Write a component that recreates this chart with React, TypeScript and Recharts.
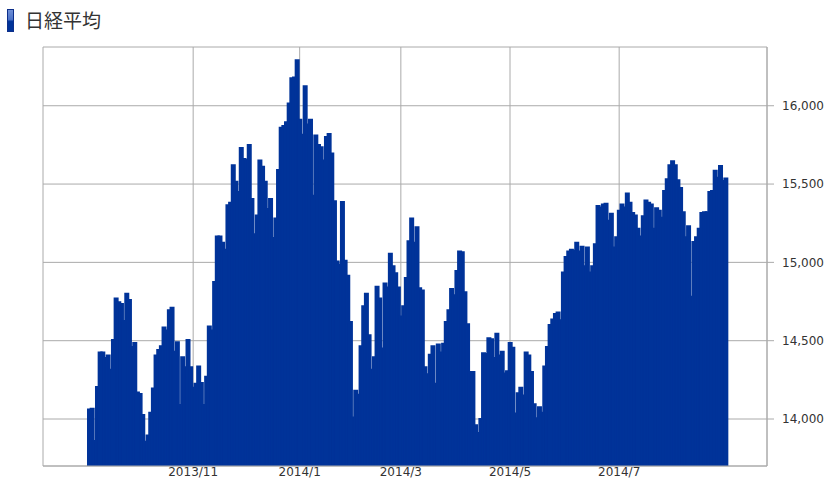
import { BarChart, Bar, XAxis, YAxis, CartesianGrid } from "recharts";

// Nikkei 225 daily close, 2013/9/4 - 2014/8/27
const dates: string[] = [
  "2013/09/04", "2013/09/05", "2013/09/06", "2013/09/09", "2013/09/10", "2013/09/11", "2013/09/12", "2013/09/13", "2013/09/17", "2013/09/18", "2013/09/19", "2013/09/20", "2013/09/24", "2013/09/25", "2013/09/26", "2013/09/27", "2013/09/30",
  "2013/10/01", "2013/10/02", "2013/10/03", "2013/10/04", "2013/10/07", "2013/10/08", "2013/10/09", "2013/10/10", "2013/10/11", "2013/10/15", "2013/10/16", "2013/10/17", "2013/10/18", "2013/10/21", "2013/10/22", "2013/10/23", "2013/10/24", "2013/10/25", "2013/10/28", "2013/10/29", "2013/10/30", "2013/10/31",
  "2013/11/01", "2013/11/05", "2013/11/06", "2013/11/07", "2013/11/08", "2013/11/11", "2013/11/12", "2013/11/13", "2013/11/14", "2013/11/15", "2013/11/18", "2013/11/19", "2013/11/20", "2013/11/21", "2013/11/22", "2013/11/25", "2013/11/26", "2013/11/27", "2013/11/28", "2013/11/29",
  "2013/12/02", "2013/12/03", "2013/12/04", "2013/12/05", "2013/12/06", "2013/12/09", "2013/12/10", "2013/12/11", "2013/12/12", "2013/12/13", "2013/12/16", "2013/12/17", "2013/12/18", "2013/12/19", "2013/12/20", "2013/12/24", "2013/12/25", "2013/12/26", "2013/12/27", "2013/12/30",
  "2014/01/06", "2014/01/07", "2014/01/08", "2014/01/09", "2014/01/10", "2014/01/14", "2014/01/15", "2014/01/16", "2014/01/17", "2014/01/20", "2014/01/21", "2014/01/22", "2014/01/23", "2014/01/24", "2014/01/27", "2014/01/28", "2014/01/29", "2014/01/30", "2014/01/31",
  "2014/02/03", "2014/02/04", "2014/02/05", "2014/02/06", "2014/02/07", "2014/02/10", "2014/02/12", "2014/02/13", "2014/02/14", "2014/02/17", "2014/02/18", "2014/02/19", "2014/02/20", "2014/02/21", "2014/02/24", "2014/02/25", "2014/02/26", "2014/02/27", "2014/02/28",
  "2014/03/03", "2014/03/04", "2014/03/05", "2014/03/06", "2014/03/07", "2014/03/10", "2014/03/11", "2014/03/12", "2014/03/13", "2014/03/14", "2014/03/17", "2014/03/18", "2014/03/19", "2014/03/20", "2014/03/24", "2014/03/25", "2014/03/26", "2014/03/27", "2014/03/28", "2014/03/31",
  "2014/04/01", "2014/04/02", "2014/04/03", "2014/04/04", "2014/04/07", "2014/04/08", "2014/04/09", "2014/04/10", "2014/04/11", "2014/04/14", "2014/04/15", "2014/04/16", "2014/04/17", "2014/04/18", "2014/04/21", "2014/04/22", "2014/04/23", "2014/04/24", "2014/04/25", "2014/04/28", "2014/04/30",
  "2014/05/01", "2014/05/02", "2014/05/07", "2014/05/08", "2014/05/09", "2014/05/12", "2014/05/13", "2014/05/14", "2014/05/15", "2014/05/16", "2014/05/19", "2014/05/20", "2014/05/21", "2014/05/22", "2014/05/23", "2014/05/26", "2014/05/27", "2014/05/28", "2014/05/29", "2014/05/30",
  "2014/06/02", "2014/06/03", "2014/06/04", "2014/06/05", "2014/06/06", "2014/06/09", "2014/06/10", "2014/06/11", "2014/06/12", "2014/06/13", "2014/06/16", "2014/06/17", "2014/06/18", "2014/06/19", "2014/06/20", "2014/06/23", "2014/06/24", "2014/06/25", "2014/06/26", "2014/06/27", "2014/06/30",
  "2014/07/01", "2014/07/02", "2014/07/03", "2014/07/04", "2014/07/07", "2014/07/08", "2014/07/09", "2014/07/10", "2014/07/11", "2014/07/14", "2014/07/15", "2014/07/16", "2014/07/17", "2014/07/18", "2014/07/22", "2014/07/23", "2014/07/24", "2014/07/25", "2014/07/28", "2014/07/29", "2014/07/30", "2014/07/31",
  "2014/08/01", "2014/08/04", "2014/08/05", "2014/08/06", "2014/08/07", "2014/08/08", "2014/08/11", "2014/08/12", "2014/08/13", "2014/08/14", "2014/08/15", "2014/08/18", "2014/08/19", "2014/08/20", "2014/08/21", "2014/08/22", "2014/08/25", "2014/08/26", "2014/08/27",
];

const closes: number[] = [
  14060, 14065, 13860, 14205, 14425, 14425, 14390, 14405, 14315, 14505, 14770, 14745, 14735, 14625, 14800, 14760, 14460,
  14485, 14170, 14160, 14025, 13855, 13895, 14040, 14195, 14405, 14440, 14465, 14585, 14565, 14695, 14710, 14430, 14490, 14090, 14395, 14330, 14505, 14330,
  14200, 14225, 14335, 14230, 14090, 14270, 14590, 14565, 14875, 15165, 15165, 15125, 15080, 15365, 15380, 15620, 15515, 15450, 15730, 15660,
  15655, 15750, 15405, 15180, 15300, 15650, 15610, 15515, 15340, 15405, 15155, 15280, 15590, 15860, 15870, 15895, 16015, 16175, 16180, 16290,
  15910, 15815, 16125, 15880, 15910, 15425, 15810, 15750, 15735, 15650, 15800, 15820, 15695, 15390, 15005, 14985, 15385, 15010, 14915,
  14620, 14010, 14180, 14155, 14465, 14720, 14800, 14535, 14315, 14395, 14845, 14770, 14450, 14865, 14840, 15055, 14975, 14930, 14840,
  14655, 14720, 14900, 15135, 15280, 15125, 15225, 14835, 14820, 14330, 14285, 14410, 14465, 14225, 14475, 14425, 14480, 14620, 14695, 14830,
  14790, 14945, 15070, 15065, 14810, 14605, 14300, 14300, 13960, 13910, 14000, 14420, 14415, 14515, 14510, 14390, 14545, 14405, 14430, 14290, 14305,
  14485, 14455, 14035, 14165, 14200, 14150, 14425, 14405, 14300, 14095, 14005, 14075, 14040, 14335, 14460, 14600, 14635, 14670, 14680, 14630,
  14935, 15035, 15070, 15080, 15075, 15125, 15070, 15100, 14975, 15095, 14935, 14975, 15115, 15360, 15350, 15370, 15375, 15265, 15310, 15095, 15160,
  15330, 15370, 15350, 15440, 15380, 15315, 15300, 15215, 15165, 15295, 15395, 15380, 15370, 15215, 15345, 15330, 15285, 15455, 15530, 15620, 15645, 15620,
  15525, 15475, 15320, 15160, 15230, 14780, 15130, 15160, 15215, 15315, 15320, 15320, 15450, 15455, 15585, 15540, 15615, 15520, 15535,
];

const tickDates = ["2013/11/01", "2014/01/06", "2014/03/03", "2014/05/01", "2014/07/01"];
const tickLabels = ["2013/11", "2014/1", "2014/3", "2014/5", "2014/7"];
const yTicks = [14000, 14500, 15000, 15500, 16000];

const data = dates.map((date, i) => ({ date, close: closes[i] }));

const GRID = "#aaaaaa";
const BLUE = "#003399";
const tickStyle = { fontSize: 12, fill: "#333", fontFamily: "'DejaVu Sans', sans-serif" };

export default function App() {
  return (
    <div style={{ position: "absolute", left: 0, top: 0, width: 832, height: 484, background: "#fff" }}>
      <div style={{ position: "absolute", left: 0, top: 0 }}>
        <BarChart
          width={832}
          height={484}
          data={data}
          margin={{ top: 47, right: 0, bottom: 0, left: 43 }}
          barCategoryGap={0}
          barGap={0}
        >
          <CartesianGrid stroke={GRID} />
          <XAxis
            dataKey="date"
            ticks={tickDates}
            interval={0}
            tickFormatter={(d) => tickLabels[tickDates.indexOf(d)]}
            padding={{ left: 45, right: 40 }}
            height={18}
            tickLine={false}
            tickSize={0}
            tickMargin={1}
            axisLine={{ stroke: GRID }}
            tick={tickStyle}
          />
          <XAxis xAxisId="top" dataKey="date" orientation="top" height={0} tick={false} tickLine={false} axisLine={{ stroke: GRID }} />
          <YAxis
            orientation="right"
            domain={[13700, 16375]}
            ticks={yTicks}
            allowDataOverflow
            width={65}
            tickSize={7}
            tickMargin={8}
            tickLine={{ stroke: GRID }}
            axisLine={{ stroke: GRID }}
            tickFormatter={(v) => v.toLocaleString("en-US")}
            tick={tickStyle}
          />
          <YAxis yAxisId="left" orientation="left" width={0} domain={[13700, 16375]} tick={false} tickLine={false} axisLine={{ stroke: GRID }} />
          <Bar
            dataKey="close"
            fill={BLUE}
            stroke={BLUE}
            strokeWidth={2}
            isAnimationActive={false}
          />
        </BarChart>
      </div>
      <div
        style={{
          position: "absolute",
          left: 7,
          top: 9,
          width: 5,
          height: 21,
          border: "1px solid #0d2f8a",
          background: "linear-gradient(to bottom, #6f8fd6 0%, #4c73c8 45%, #003399 55%, #003399 100%)",
        }}
      />
      <div
        style={{
          position: "absolute",
          left: 25,
          top: 9,
          fontFamily: "'Noto Sans CJK JP', sans-serif",
          fontSize: 19,
          lineHeight: "22px",
          color: "#333",
        }}
      >
        日経平均
      </div>
    </div>
  );
}
